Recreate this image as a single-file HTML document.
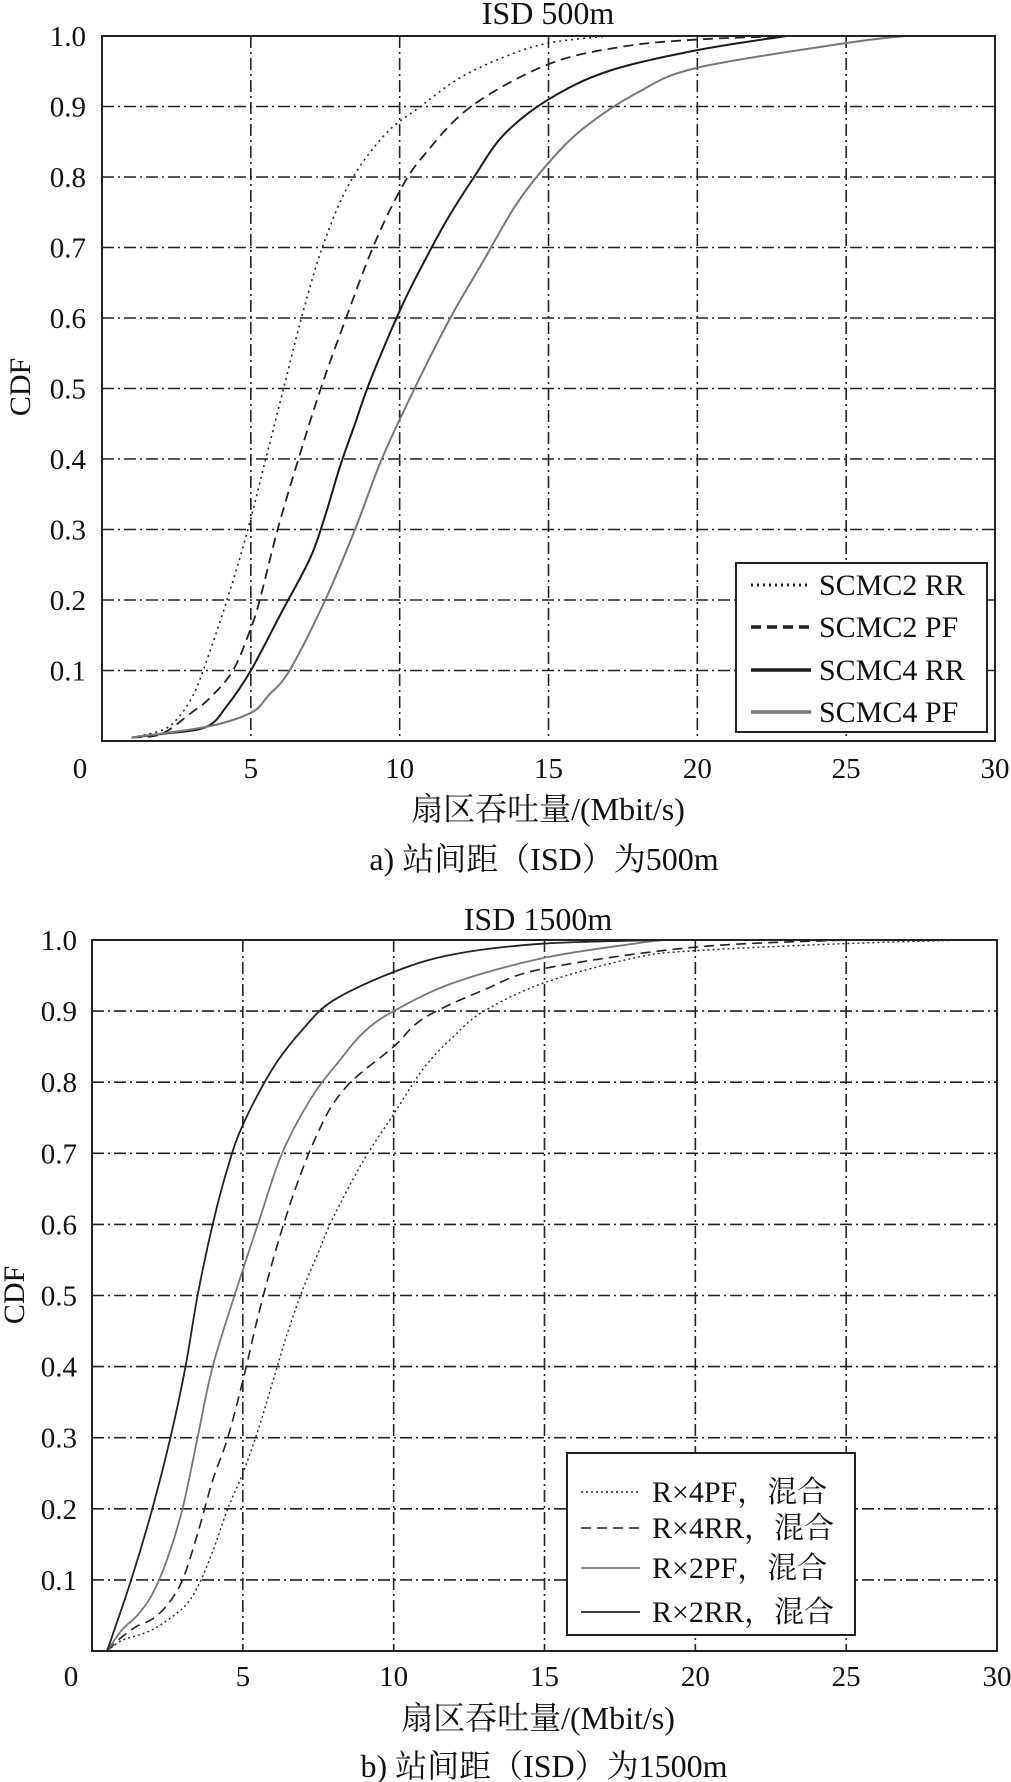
<!DOCTYPE html>
<html><head><meta charset="utf-8"><style>
html,body{margin:0;padding:0;background:#fff;}
svg{display:block;}
text{font-family:"Liberation Serif","Noto Serif CJK SC","Noto Sans CJK SC",serif;fill:#111;}
</style></head><body>
<svg id="s" width="1011" height="1782" viewBox="0 0 1011 1782" xmlns="http://www.w3.org/2000/svg">
<g id="g"></g>
<text x="548" y="24" font-size="32" text-anchor="middle">ISD 500m</text>
<text x="538" y="930" font-size="32" text-anchor="middle">ISD 1500m</text>
<text transform="translate(30,387) rotate(-90)" font-size="30" text-anchor="middle">CDF</text>
<text transform="translate(24,1295) rotate(-90)" font-size="30" text-anchor="middle">CDF</text>
<text x="548" y="820" font-size="32" text-anchor="middle">扇区吞吐量/(Mbit/s)</text>
<text x="544" y="870" font-size="32" text-anchor="middle">a) 站间距（ISD）为500m</text>
<text x="538" y="1729" font-size="32" text-anchor="middle">扇区吞吐量/(Mbit/s)</text>
<text x="544" y="1777" font-size="32" text-anchor="middle">b) 站间距（ISD）为1500m</text>
</svg>
<script>
var NS="http://www.w3.org/2000/svg",G=document.getElementById('g');
function el(t,a,txt){var e=document.createElementNS(NS,t);for(var k in a)e.setAttribute(k,a[k]);if(txt!=null)e.textContent=txt;G.appendChild(e);return e;}
function plot(P){
 var X=function(v){return P.l+(P.r-P.l)*v/30},Y=function(v){return P.b-(P.b-P.t)*v};
 for(var i=5;i<30;i+=5)el('line',{x1:X(i),x2:X(i),y1:P.t,y2:P.b,stroke:'#222','stroke-width':1.6,'stroke-dasharray':'12,4,2,4'});
 for(var j=1;j<10;j++)el('line',{x1:P.l,x2:P.r,y1:Y(j/10),y2:Y(j/10),stroke:'#222','stroke-width':1.6,'stroke-dasharray':'12,4,2,4'});
 for(var j=1;j<=10;j++)el('text',{x:P.yl,y:Y(j/10)+10,'font-size':29,'text-anchor':'end'},(j/10).toFixed(1));
 for(var i=0;i<=30;i+=5)el('text',{x:i==0?P.x0:X(i),y:P.xt,'font-size':29,'text-anchor':'middle'},String(i));
 P.series.forEach(function(s){
  var p=s.d.map(function(q){return [X(q[0]),Y(q[1])]}),d='M'+p[0][0]+','+p[0][1];
  for(var k=0;k<p.length-1;k++){var a=p[k-1]||p[k],b=p[k],c=p[k+1],e=p[k+2]||c;
   d+=' C'+(b[0]+(c[0]-a[0])/6)+','+(b[1]+(c[1]-a[1])/6)+' '+(c[0]-(e[0]-b[0])/6)+','+(c[1]-(e[1]-b[1])/6)+' '+c[0]+','+c[1];}
  var at={d:d,fill:'none',stroke:s.c,'stroke-width':s.w};if(s.da)at['stroke-dasharray']=s.da;el('path',at);
 });
 el('rect',{x:P.l,y:P.t,width:P.r-P.l,height:P.b-P.t,fill:'none',stroke:'#222','stroke-width':2});
 var L=P.leg;el('rect',{x:L.x,y:L.y,width:L.w,height:L.h,fill:'#fff',stroke:'#222','stroke-width':2});
 P.series.forEach(function(s,i){var yy=L.ys[i];var at={x1:L.lx1,x2:L.lx2,y1:yy,y2:yy,stroke:s.c,'stroke-width':s.lw||s.w};if(s.ld||s.da)at['stroke-dasharray']=s.ld||s.da;el('line',at);
  el('text',{x:L.tx,y:yy+10,'font-size':L.fs},s.n);});
}
plot({l:102,r:995,t:36,b:741,yl:86,x0:80,xt:778,
 leg:{x:736,y:563,w:251,h:169,ys:[585,627,670,712],lx1:751,lx2:811,tx:819,fs:30},
 series:[
 {n:'SCMC2 RR',c:'#222',w:1.6,lw:3,da:'2,4',d:[[1,.005],[2,.015],[2.5,.03],[3,.06],[3.4,.1],[4.2,.2],[4.9,.3],[5.5,.4],[6.1,.5],[6.7,.6],[7.4,.7],[8.3,.79],[9.5,.86],[10.7,.9],[12,.94],[13.5,.97],[15,.99],[17,1]]},
 {n:'SCMC2 PF',c:'#222',w:1.8,lw:3.5,da:'10,6',d:[[1,.005],[2,.01],[3,.04],[3.6,.06],[4.4,.1],[5,.16],[5.3,.2],[5.9,.3],[6.6,.4],[7.35,.5],[8.2,.6],[9.1,.7],[10,.78],[10.8,.83],[12.4,.9],[15,.96],[17.5,.985],[20,.995],[23,1]]},
 {n:'SCMC4 RR',c:'#1a1a1a',w:2,lw:3.5,d:[[1,.005],[2,.01],[3.5,.02],[4.2,.05],[5,.1],[6,.18],[7,.26],[7.5,.32],[8,.39],[8.5,.45],[9,.51],[10,.61],[10.7,.67],[11.6,.74],[12.5,.8],[13.5,.86],[15,.91],[17,.95],[20,.98],[23,1]]},
 {n:'SCMC4 PF',c:'#777',w:2,lw:3.5,d:[[1,.005],[3.5,.02],[5,.04],[5.6,.065],[6.3,.1],[7.5,.2],[8.5,.3],[9.4,.4],[10.5,.5],[11.7,.6],[12.8,.68],[13.9,.76],[15,.82],[16.2,.87],[18,.92],[20,.955],[25,.99],[27,1]]}
 ]});
plot({l:92,r:997,t:940,b:1651,yl:77,x0:71,xt:1686,
 leg:{x:567,y:1453,w:288,h:182,ys:[1492,1528,1568,1612],lx1:581,lx2:640,tx:652,fs:30},
 series:[
 {n:'R×4PF，混合',c:'#222',w:1.4,da:'2,3',d:[[0.5,0],[1,.015],[2,.03],[3,.06],[3.5,.09],[4,.14],[4.5,.2],[5,.25],[5.5,.31],[6,.38],[6.5,.45],[7,.51],[7.5,.56],[8,.61],[9,.69],[10,.755],[11,.82],[12,.865],[13,.9],[15,.94],[18,.975],[20,.985],[25,.995],[29,1]]},
 {n:'R×4RR，混合',c:'#222',w:1.6,da:'10,6',d:[[0.5,0],[1,.02],[1.5,.035],[2,.045],[2.5,.065],[3,.1],[3.5,.165],[4,.24],[4.5,.3],[5,.38],[5.5,.47],[6,.55],[6.5,.62],[7,.68],[7.5,.73],[8,.77],[8.7,.805],[10,.85],[11,.89],[13,.93],[15,.96],[20,.99],[25,1]]},
 {n:'R×2PF，混合',c:'#777',w:1.8,d:[[0.5,0],[1,.03],[1.5,.05],[2,.08],[2.5,.13],[3,.2],[3.5,.3],[4,.4],[4.8,.51],[5.5,.6],[6.3,.7],[7.3,.78],[8.2,.83],[9,.87],[10,.9],[12,.94],[15,.975],[18,.995],[19,1]]},
 {n:'R×2RR，混合',c:'#222',w:1.8,d:[[0.5,0],[1.3,.1],[2,.2],[2.6,.3],[3.1,.4],[3.5,.5],[4,.6],[4.5,.68],[5,.74],[6,.82],[7,.875],[8,.915],[10,.955],[12,.98],[15,.995],[19,1]]}
 ]});
</script>
</body></html>
